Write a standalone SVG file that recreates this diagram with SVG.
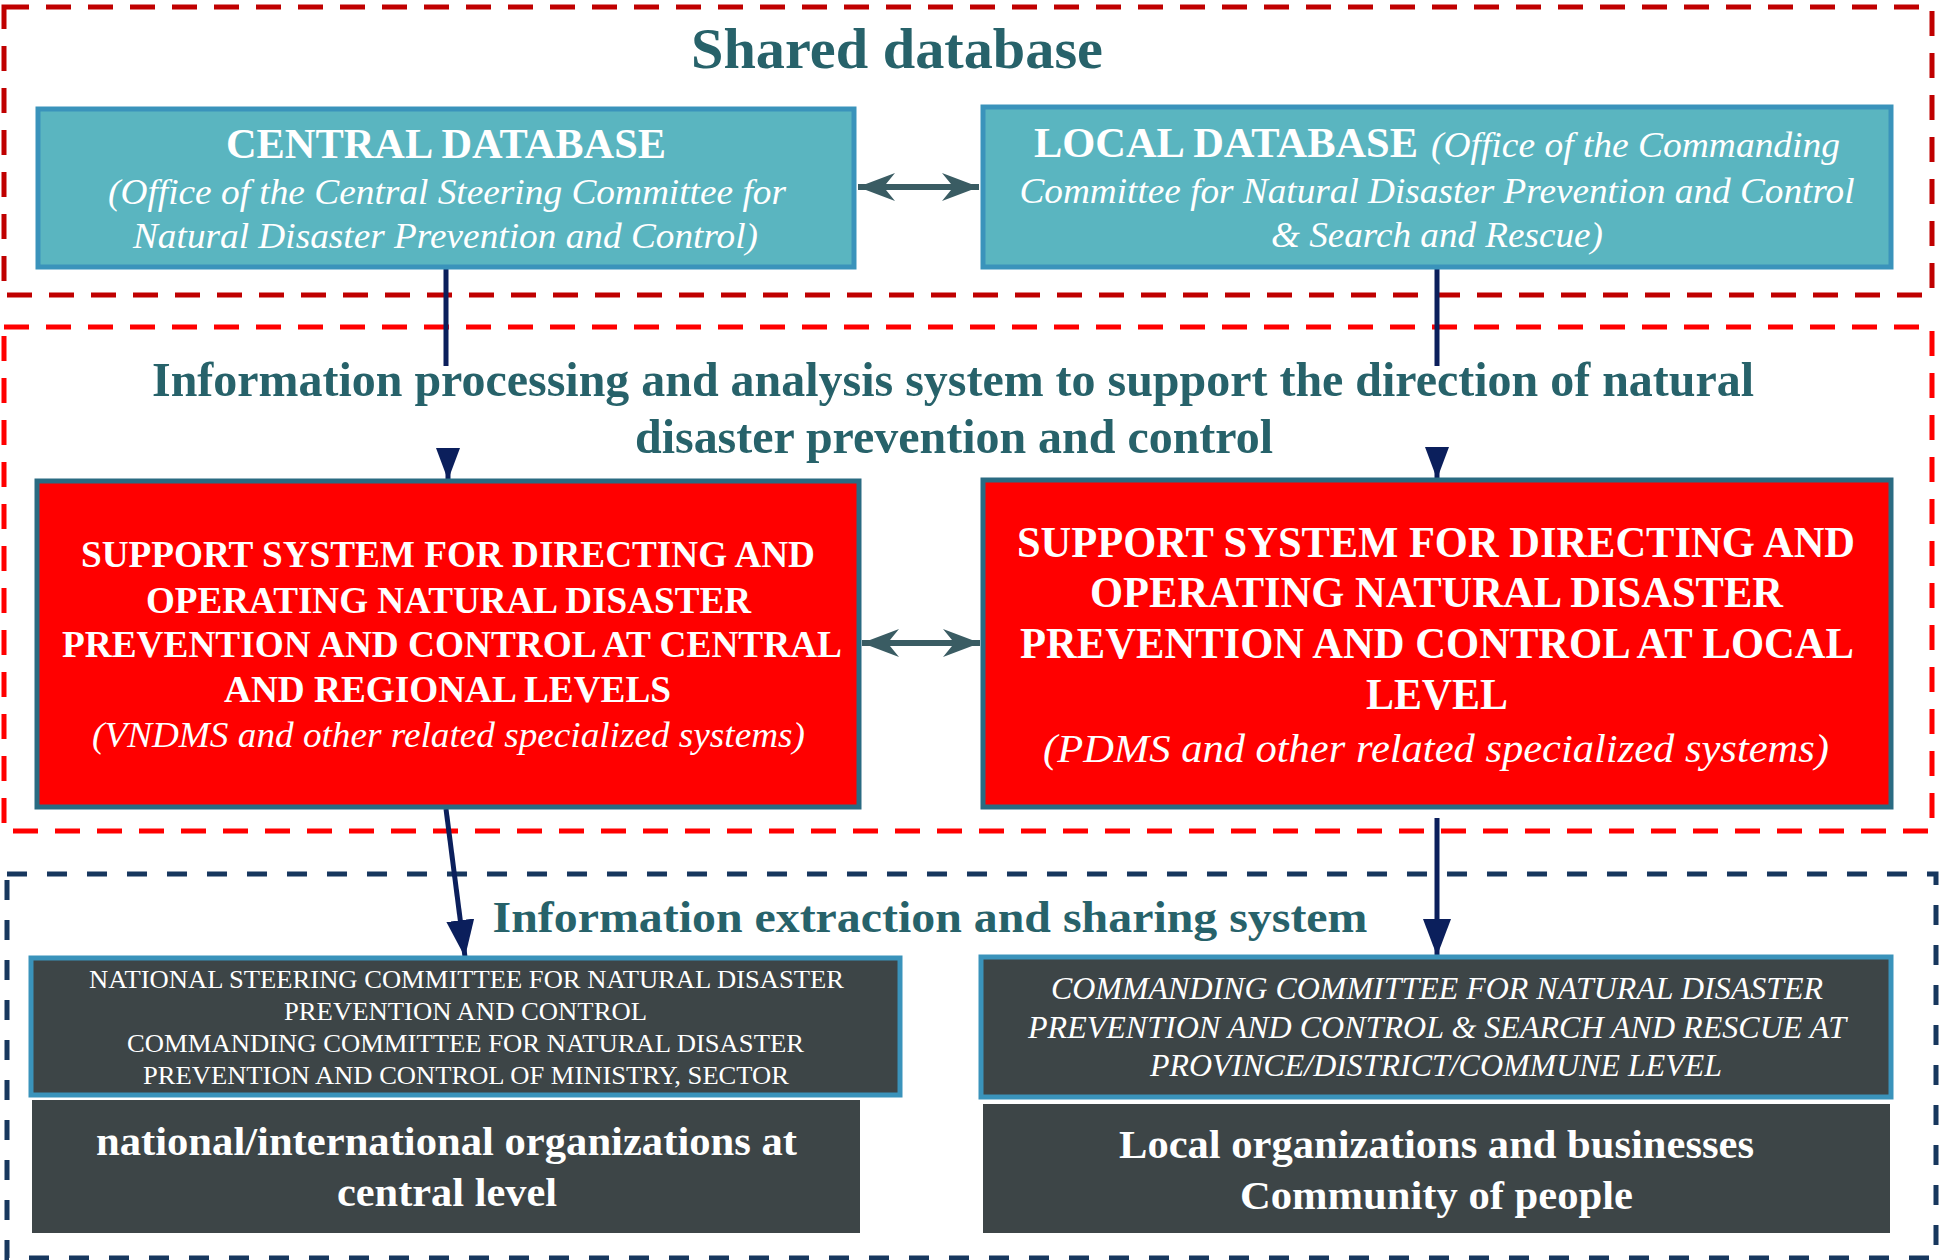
<svg xmlns="http://www.w3.org/2000/svg" width="1944" height="1260" viewBox="0 0 1944 1260">
<style>
text{font-family:"Liberation Serif","Times New Roman",serif;}
.t{fill:#27626a;font-weight:bold;text-anchor:middle;}
.w{fill:#ffffff;text-anchor:middle;}
.b{font-weight:bold;}
.i{font-style:italic;}
.db{fill:#5ab5c0;stroke:#3a93bb;stroke-width:5;}
.red{fill:#ff0000;stroke:#2a6b82;stroke-width:5;}
.dk{fill:#3d4547;stroke:#3a93bb;stroke-width:5;}
.dk2{fill:#3d4547;}
.nav{fill:none;stroke:#0b1f5c;stroke-width:5;}
.dbl{fill:none;stroke:#3a5c63;stroke-width:6;}
</style>
<defs>
<marker id="tri" viewBox="0 0 32 24" refX="32" refY="12" markerWidth="32" markerHeight="24" markerUnits="userSpaceOnUse" orient="auto">
<path d="M0,0 L32,12 L0,24 Z" fill="#0b1f5c"/>
</marker>
<marker id="tri2" viewBox="0 0 37 28" refX="37" refY="14" markerWidth="37" markerHeight="28" markerUnits="userSpaceOnUse" orient="auto">
<path d="M0,0 L37,14 L0,28 Z" fill="#0b1f5c"/>
</marker>
<marker id="barb" viewBox="0 0 37 28" refX="37" refY="14" markerWidth="37" markerHeight="28" markerUnits="userSpaceOnUse" orient="auto-start-reverse">
<path d="M37,14 L0,0 L9,11 L9,17 L0,28 Z" fill="#3a5c63"/>
</marker>
</defs>

<g id="zones" fill="none">
<rect id="zone-shared" x="4" y="7" width="1928" height="288" stroke="#c00000" stroke-width="5" stroke-dasharray="25 17"/>
<rect id="zone-processing" x="4" y="327" width="1928" height="504" stroke="#ff0000" stroke-width="5" stroke-dasharray="25 17"/>
<rect id="zone-extraction" x="7" y="874" width="1929" height="384" stroke="#17375e" stroke-width="5" stroke-dasharray="20 20"/>
</g>

<g id="titles">
<text class="t" x="897" y="68" font-size="56" textLength="412" lengthAdjust="spacingAndGlyphs">Shared database</text>
<text class="t" x="953" y="396" font-size="49" textLength="1602" lengthAdjust="spacingAndGlyphs">Information processing and analysis system to support the direction of natural</text>
<text class="t" x="954" y="453" font-size="49" textLength="638" lengthAdjust="spacingAndGlyphs">disaster prevention and control</text>
<text class="t" x="930" y="932" font-size="45" textLength="875" lengthAdjust="spacingAndGlyphs">Information extraction and sharing system</text>
</g>

<g id="connectors">
<path class="dbl" d="M858,187 H979" marker-start="url(#barb)" marker-end="url(#barb)"/>
<path class="dbl" d="M862,643 H980" marker-start="url(#barb)" marker-end="url(#barb)"/>
<path class="nav" d="M446,269 V366 M448,448 V480" marker-end="url(#tri)"/>
<path class="nav" d="M1437,269 V366 M1437,448 V479" marker-end="url(#tri)"/>
<path class="nav" d="M446,809 L465,957" marker-end="url(#tri2)"/>
<path class="nav" d="M1437,818 V956" marker-end="url(#tri2)"/>
</g>

<g id="central-database">
<rect class="db" x="38" y="109" width="816" height="158"/>
<text class="w b" x="446" y="158" font-size="42" textLength="440" lengthAdjust="spacingAndGlyphs">CENTRAL DATABASE</text>
<text class="w i" x="447" y="204" font-size="36" textLength="678" lengthAdjust="spacingAndGlyphs">(Office of the Central Steering Committee for</text>
<text class="w i" x="445.5" y="248" font-size="36" textLength="625" lengthAdjust="spacingAndGlyphs">Natural Disaster Prevention and Control)</text>
</g>

<g id="local-database">
<rect class="db" x="983" y="107" width="908" height="160"/>
<text class="b" fill="#ffffff" x="1034" y="157" font-size="42" textLength="384" lengthAdjust="spacingAndGlyphs">LOCAL DATABASE</text>
<text class="i" fill="#ffffff" x="1431" y="157" font-size="36" textLength="409" lengthAdjust="spacingAndGlyphs">(Office of the Commanding</text>
<text class="w i" x="1437" y="203" font-size="36" textLength="835" lengthAdjust="spacingAndGlyphs">Committee for Natural Disaster Prevention and Control</text>
<text class="w i" x="1437" y="247" font-size="36" textLength="332" lengthAdjust="spacingAndGlyphs">&amp; Search and Rescue)</text>
</g>

<g id="central-support-system">
<rect class="red" x="37" y="481" width="822" height="326"/>
<text class="w b" x="448" y="567" font-size="38" textLength="734" lengthAdjust="spacingAndGlyphs">SUPPORT SYSTEM FOR DIRECTING AND</text>
<text class="w b" x="448.5" y="613" font-size="38" textLength="605" lengthAdjust="spacingAndGlyphs">OPERATING NATURAL DISASTER</text>
<text class="w b" x="452" y="657" font-size="38" textLength="780" lengthAdjust="spacingAndGlyphs">PREVENTION AND CONTROL AT CENTRAL</text>
<text class="w b" x="447.5" y="702" font-size="38" textLength="447" lengthAdjust="spacingAndGlyphs">AND REGIONAL LEVELS</text>
<text class="w i" x="448.5" y="747" font-size="36" textLength="713" lengthAdjust="spacingAndGlyphs">(VNDMS and other related specialized systems)</text>
</g>

<g id="local-support-system">
<rect class="red" x="983" y="480" width="908" height="327"/>
<text class="w b" x="1436" y="557" font-size="44" textLength="838" lengthAdjust="spacingAndGlyphs">SUPPORT SYSTEM FOR DIRECTING AND</text>
<text class="w b" x="1436.5" y="607" font-size="44" textLength="693" lengthAdjust="spacingAndGlyphs">OPERATING NATURAL DISASTER</text>
<text class="w b" x="1437" y="658" font-size="44" textLength="834" lengthAdjust="spacingAndGlyphs">PREVENTION AND CONTROL AT LOCAL</text>
<text class="w b" x="1437" y="709" font-size="44" textLength="142" lengthAdjust="spacingAndGlyphs">LEVEL</text>
<text class="w i" x="1436" y="762" font-size="41" textLength="786" lengthAdjust="spacingAndGlyphs">(PDMS and other related specialized systems)</text>
</g>

<g id="national-committees">
<rect class="dk" x="31" y="958" width="869" height="137"/>
<text class="w" x="466.5" y="988" font-size="26" textLength="755" lengthAdjust="spacingAndGlyphs">NATIONAL STEERING COMMITTEE FOR NATURAL DISASTER</text>
<text class="w" x="465.5" y="1020" font-size="26" textLength="363" lengthAdjust="spacingAndGlyphs">PREVENTION AND CONTROL</text>
<text class="w" x="465.5" y="1052" font-size="26" textLength="677" lengthAdjust="spacingAndGlyphs">COMMANDING COMMITTEE FOR NATURAL DISASTER</text>
<text class="w" x="466" y="1084" font-size="26" textLength="646" lengthAdjust="spacingAndGlyphs">PREVENTION AND CONTROL OF MINISTRY, SECTOR</text>
</g>

<g id="central-organizations">
<rect class="dk2" x="32" y="1100" width="828" height="133"/>
<text class="w b" x="446.5" y="1155" font-size="39" textLength="701" lengthAdjust="spacingAndGlyphs">national/international organizations at</text>
<text class="w b" x="447" y="1206" font-size="39" textLength="220" lengthAdjust="spacingAndGlyphs">central level</text>
</g>

<g id="local-committees">
<rect class="dk" x="981" y="957" width="910" height="140"/>
<text class="w i" x="1437" y="999" font-size="31" textLength="772" lengthAdjust="spacingAndGlyphs">COMMANDING COMMITTEE FOR NATURAL DISASTER</text>
<text class="w i" x="1437" y="1038" font-size="31" textLength="818" lengthAdjust="spacingAndGlyphs">PREVENTION AND CONTROL &amp; SEARCH AND RESCUE AT</text>
<text class="w i" x="1436" y="1076" font-size="31" textLength="572" lengthAdjust="spacingAndGlyphs">PROVINCE/DISTRICT/COMMUNE LEVEL</text>
</g>

<g id="local-organizations">
<rect class="dk2" x="983" y="1104" width="907" height="129"/>
<text class="w b" x="1436.5" y="1158" font-size="41" textLength="635" lengthAdjust="spacingAndGlyphs">Local organizations and businesses</text>
<text class="w b" x="1436.5" y="1209" font-size="41" textLength="393" lengthAdjust="spacingAndGlyphs">Community of people</text>
</g>
</svg>
